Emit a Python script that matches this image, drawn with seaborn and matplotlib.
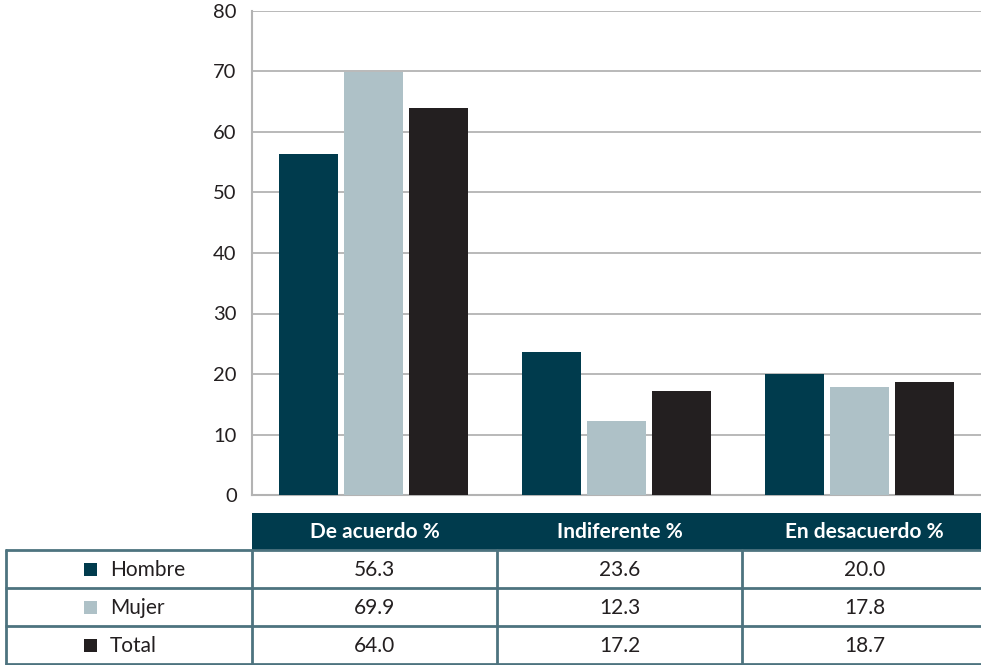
import matplotlib
matplotlib.use("Agg")
import matplotlib.pyplot as plt
from matplotlib.patches import Rectangle
import seaborn as sns
import pandas as pd

categories = ["De acuerdo %", "Indiferente %", "En desacuerdo %"]
groups = ["Hombre", "Mujer", "Total"]
hombre = [56.3, 23.6, 20.0]
mujer = [69.9, 12.3, 17.8]
total = [64.0, 17.2, 18.7]
yticks = [0, 10, 20, 30, 40, 50, 60, 70, 80]

colors = {"Hombre": "#003b4d", "Mujer": "#aec1c7", "Total": "#231f20"}
header_color = "#003b4d"
border_color = "#4d737f"
grid_color = "#b3b3b3"
text_color = "#231f20"

sns.set_theme(style="white")
plt.rcParams["font.family"] = ["Lato", "DejaVu Sans"]

series = {"Hombre": hombre, "Mujer": mujer, "Total": total}
df = pd.DataFrame(
    [(c, g, series[g][i]) for g in groups for i, c in enumerate(categories)],
    columns=["categoria", "grupo", "valor"],
)

W, H = 981, 665
fig = plt.figure(figsize=(W / 100, H / 100), dpi=100)

# bar chart area
ax = fig.add_axes([252 / W, (H - 495) / H, (W - 252) / W, (495 - 11) / H])
sns.barplot(data=df, x="categoria", y="valor", hue="grupo", order=categories,
            hue_order=groups, palette=colors, width=0.8, gap=0.09,
            saturation=1, legend=False, ax=ax, zorder=3, linewidth=0)
ax.set_xlim(-0.5, 2.5)
ax.set_ylim(0, 80)
ax.set_yticks(yticks)
ax.set_yticklabels([str(t) for t in yticks], fontsize=14.5, color=text_color)
ax.set_xticks([])
ax.set_xlabel("")
ax.set_ylabel("")
ax.yaxis.grid(True, color=grid_color, linewidth=1.3, zorder=0)
ax.tick_params(axis="y", length=0, pad=11)
for side in ["top", "right"]:
    ax.spines[side].set_visible(False)
for side in ["left", "bottom"]:
    ax.spines[side].set_color(grid_color)
    ax.spines[side].set_linewidth(1.5)

# data table beneath the chart
tab = fig.add_axes([0, 0, 1, 1])
tab.set_xlim(0, W)
tab.set_ylim(H, 0)
tab.axis("off")

col_edges = [252, 497, 742, 987]
header_top, header_bot = 513, 550
row_edges = [550, 588, 626, 664]
fs = 15

tab.add_patch(Rectangle((252, header_top), W - 252, header_bot - header_top,
                        facecolor=header_color, edgecolor="none"))
for i, c in enumerate(categories):
    xc = (col_edges[i] + col_edges[i + 1]) / 2
    tab.text(xc, (header_top + header_bot) / 2 + 1, c, color="white",
             fontsize=fs, ha="center", va="center", fontweight="bold")

lw = 2
for y in row_edges:
    tab.plot([5, W], [y, y], color=border_color, linewidth=lw, solid_capstyle="butt")
for x in [6] + col_edges[:3]:
    tab.plot([x, x], [row_edges[0], row_edges[-1]],
             color=border_color, linewidth=lw)

for r, g in enumerate(groups):
    yc = (row_edges[r] + row_edges[r + 1]) / 2
    tab.add_patch(Rectangle((84, yc - 6.5), 13, 13, facecolor=colors[g],
                            edgecolor="none"))
    tab.text(110, yc + 1, g, color=text_color, fontsize=fs,
             ha="left", va="center")
    for i in range(3):
        xc = (col_edges[i] + col_edges[i + 1]) / 2
        tab.text(xc, yc + 1, f"{series[g][i]:.1f}", color=text_color,
                 fontsize=fs, ha="center", va="center")

fig.savefig("out.png", dpi=100)
